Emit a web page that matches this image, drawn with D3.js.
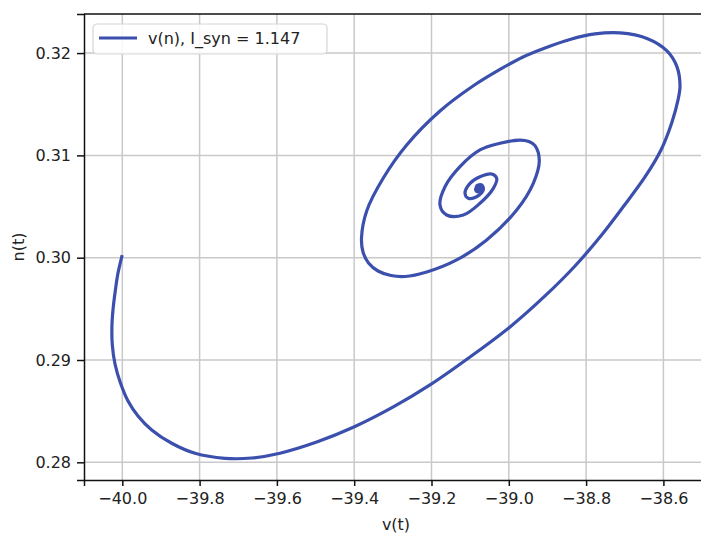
<!DOCTYPE html>
<html>
<head>
<meta charset="utf-8">
<script src="https://cdn.jsdelivr.net/npm/d3@7"></script>
<style>
  html, body { margin: 0; padding: 0; background: #fff; }
  svg { display: block; font-family: "DejaVu Sans", sans-serif; }
</style>
</head>
<body>
<div id="chart"></div>
<script>
// trajectory (membrane voltage v, gating variable n)
const vValues = [
  -40.0003, -40.0116, -40.0189, -40.0241, -40.0269, -40.0259, -40.0189, -40.0047,
  -39.9852, -39.9594, -39.9239, -39.8722, -39.8119, -39.7343, -39.6652, -39.5920,
  -39.4970, -39.4023, -39.2988, -39.2039, -39.1004, -38.9969, -38.9063, -38.8287,
  -38.7640, -38.7045, -38.6476, -38.6062, -38.5777, -38.5622, -38.5570, -38.5648,
  -38.5907, -38.6424, -38.7123, -38.7770, -38.8417, -38.9063, -38.9632, -39.0228,
  -39.0926, -39.1780, -39.2642, -39.3247, -39.3677, -39.3811, -39.3772, -39.3630,
  -39.3384, -39.3048, -39.2686, -39.2124, -39.1348, -39.0572, -38.9796, -38.9366,
  -38.9211, -38.9322, -38.9480, -38.9710, -39.0228, -39.0745, -39.1263, -39.1651,
  -39.1780, -39.1607, -39.1177, -39.0745, -39.0401, -39.0313, -39.0442, -39.0745,
  -39.1004, -39.1133, -39.1048, -39.0831, -39.0660, -39.0701, -39.0831, -39.0789
];
const nValues = [
  0.30026, 0.29841, 0.29655, 0.29489, 0.29323, 0.29147, 0.28961, 0.28775,
  0.28599, 0.28453, 0.28316, 0.28186, 0.28088, 0.28039, 0.28042, 0.28089,
  0.28198, 0.28342, 0.28541, 0.28756, 0.29029, 0.29323, 0.29626, 0.29919,
  0.30202, 0.30495, 0.30789, 0.31053, 0.31327, 0.31542, 0.31679, 0.31865,
  0.32021, 0.32143, 0.32197, 0.32187, 0.32133, 0.32050, 0.31962, 0.31840,
  0.31678, 0.31434, 0.31102, 0.30779, 0.30457, 0.30193, 0.30056, 0.29948,
  0.29870, 0.29826, 0.29816, 0.29860, 0.29978, 0.30173, 0.30466, 0.30727,
  0.30950, 0.31095, 0.31135, 0.31150, 0.31118, 0.31053, 0.30890, 0.30694,
  0.30515, 0.30417, 0.30417, 0.30532, 0.30678, 0.30776, 0.30818, 0.30792,
  0.30727, 0.30630, 0.30581, 0.30596, 0.30662, 0.30711, 0.30701, 0.30669
];
const xTicks = [-40.0, -39.8, -39.6, -39.4, -39.2, -39.0, -38.8, -38.6];
const yTicks = [0.28, 0.29, 0.30, 0.31, 0.32];
const seriesLabel = "v(n), I_syn = 1.147";

const width = 701, height = 534;
const margin = { top: 14, left: 84, right: -7, bottom: 54 };
const innerW = width - margin.left - margin.right;
const innerH = height - margin.top - margin.bottom;
const lineColor = "#3b4fad";

const svg = d3.select("#chart").append("svg")
  .attr("width", width)
  .attr("height", height);

const x = d3.scaleLinear().domain([-40.0991, -38.4846]).range([0, innerW]);
const y = d3.scaleLinear().domain([0.27827, 0.32382]).range([innerH, 0]);

const g = svg.append("g").attr("transform", `translate(${margin.left},${margin.top})`);

// grid
g.append("g")
  .selectAll("line")
  .data(xTicks)
  .join("line")
  .attr("x1", d => x(d)).attr("x2", d => x(d))
  .attr("y1", 0).attr("y2", innerH)
  .attr("stroke", "#c9c9c9").attr("stroke-width", 1.5);
g.append("g")
  .selectAll("line")
  .data(yTicks)
  .join("line")
  .attr("y1", d => y(d)).attr("y2", d => y(d))
  .attr("x1", 0).attr("x2", innerW)
  .attr("stroke", "#c9c9c9").attr("stroke-width", 1.5);

// trajectory
const pts = vValues.map((v, i) => [v, nValues[i]]);
const line = d3.line()
  .x(d => x(d[0]))
  .y(d => y(d[1]))
  .curve(d3.curveCatmullRom.alpha(0.5));

g.append("path")
  .datum(pts)
  .attr("d", line)
  .attr("fill", "none")
  .attr("stroke", lineColor)
  .attr("stroke-width", 3.2)
  .attr("stroke-linejoin", "round")
  .attr("stroke-linecap", "butt");

// centre blob where the spiral settles
g.append("circle")
  .attr("cx", x(vValues[vValues.length - 1]))
  .attr("cy", y(nValues[nValues.length - 1]))
  .attr("r", 4.3)
  .attr("fill", lineColor);

// axes
const fmtX = d => d.toFixed(1).replace("-", "\u2212");
const xAxis = g.append("g")
  .attr("transform", `translate(0,${innerH})`)
  .call(d3.axisBottom(x).tickValues(xTicks).tickFormat(fmtX).tickSize(6).tickPadding(7));
const yAxis = g.append("g")
  .call(d3.axisLeft(y).tickValues(yTicks).tickFormat(d3.format(".2f")).tickSize(7).tickPadding(6));

[xAxis, yAxis].forEach(a => {
  a.select(".domain").attr("stroke", "#111").attr("stroke-width", 1.5);
  a.selectAll(".tick line").attr("stroke", "#111").attr("stroke-width", 1.5);
  a.selectAll("text").attr("fill", "#222").style("font-size", "16px")
    .style("font-family", "DejaVu Sans, sans-serif");
});

// top spine
g.append("line")
  .attr("x1", 0).attr("x2", innerW)
  .attr("y1", 0).attr("y2", 0)
  .attr("stroke", "#111").attr("stroke-width", 1.5);

// axis labels
svg.append("text")
  .attr("x", margin.left + innerW / 2)
  .attr("y", 530)
  .attr("text-anchor", "middle")
  .attr("fill", "#222")
  .style("font-size", "16px")
  .text("v(t)");
svg.append("text")
  .attr("transform", `translate(24,${margin.top + innerH / 2}) rotate(-90)`)
  .attr("text-anchor", "middle")
  .attr("fill", "#222")
  .style("font-size", "16px")
  .text("n(t)");

// legend
const lg = g.append("g").attr("transform", "translate(9,10)");
lg.append("rect")
  .attr("width", 234).attr("height", 30)
  .attr("rx", 4)
  .attr("fill", "#fff").attr("fill-opacity", 0.85)
  .attr("stroke", "#d5d5d5").attr("stroke-width", 1.2);
lg.append("line")
  .attr("x1", 6).attr("x2", 44)
  .attr("y1", 14).attr("y2", 14)
  .attr("stroke", lineColor).attr("stroke-width", 3.2);
lg.append("text")
  .attr("x", 55).attr("y", 20)
  .attr("fill", "#222")
  .style("font-size", "16px")
  .text(seriesLabel);
</script>
</body>
</html>
